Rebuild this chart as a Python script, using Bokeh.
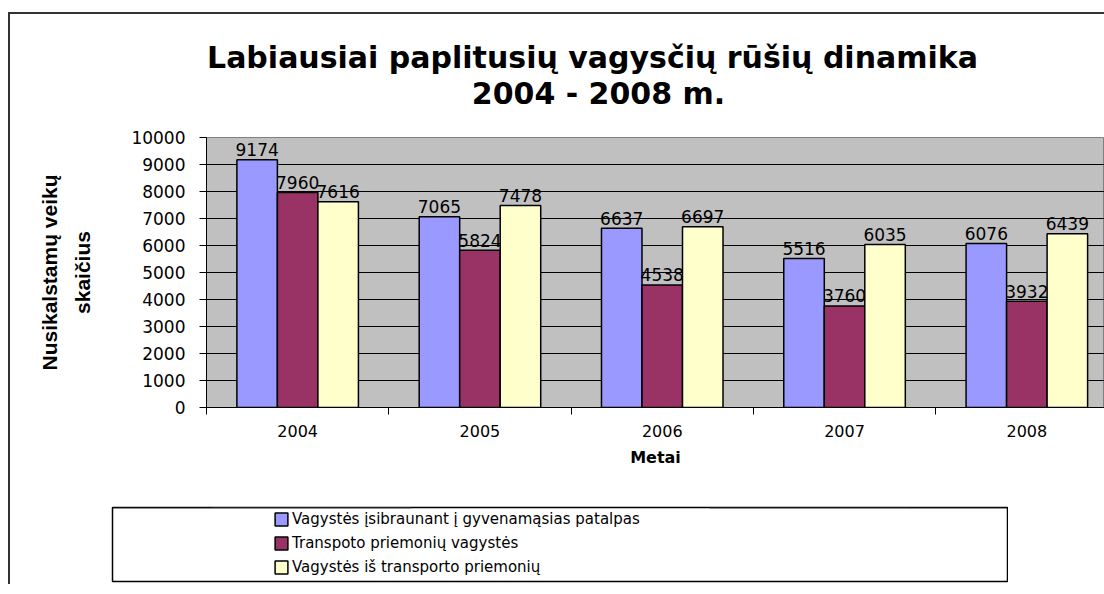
from bokeh.plotting import figure
from bokeh.layouts import column
from bokeh.models import Range1d, FixedTicker, Legend, LegendItem, ColumnDataSource, Label
from bokeh.core.properties import value
from bokeh.embed import file_html
from bokeh.resources import INLINE

# ---- data ----
years = ["2004", "2005", "2006", "2007", "2008"]
series_names = [
    "Vagystės įsibraunant į gyvenamąsias patalpas",
    "Transpoto priemonių vagystės",
    "Vagystės iš transporto priemonių",
]
gyvenamosios_patalpos = [9174, 7065, 6637, 5516, 6076]
transporto_priemoniu_vagystes = [7960, 5824, 4538, 3760, 3932]
is_transporto_priemoniu = [7616, 7478, 6697, 6035, 6439]
series_values = [gyvenamosios_patalpos, transporto_priemoniu_vagystes, is_transporto_priemoniu]
colors = ["#9999FF", "#993366", "#FFFFCC"]
y_ticks = [0, 1000, 2000, 3000, 4000, 5000, 6000, 7000, 8000, 9000, 10000]
title_line1 = "Labiausiai paplitusių vagysčių rūšių dinamika"
title_line2 = "2004 - 2008 m."
y_label = "Nusikalstamų veikų\nskaičius"
x_label = "Metai"

W = 1094
H_TITLE = 111
H_MAIN = 381
H_LEG = 78
idx = list(range(len(years)))
bar_w = 2 / 9
offsets = [-bar_w, 0.0, bar_w]

# ---- title strip ----
pt = figure(width=W, height=H_TITLE, x_range=Range1d(0, 898), y_range=Range1d(0, H_TITLE),
            output_backend="svg", toolbar_location=None,
            min_border_left=196, min_border_right=0, min_border_top=0, min_border_bottom=0)
pt.axis.visible = False
pt.grid.visible = False
pt.outline_line_color = None
pt.background_fill_color = "white"
pt.border_fill_alpha = 0
for txt, tx, ty in [(title_line1, 386, 68), (title_line2, 392, 32)]:
    pt.add_layout(Label(x=tx, y=ty, text=txt, text_align="center",
                        text_baseline="alphabetic", text_font="DejaVu Sans",
                        text_font_style="bold", text_font_size="30px",
                        text_color="black"))

# ---- main chart ----
p = figure(width=W, height=H_MAIN, x_range=Range1d(-0.5, 4.426), y_range=Range1d(0, 10000),
           output_backend="svg", toolbar_location=None,
           min_border_left=196, min_border_right=0, min_border_top=12,
           min_border_bottom=99)
p.background_fill_color = "#C0C0C0"
p.border_fill_alpha = 0
p.outline_line_color = "#808080"

# grid
p.xgrid.visible = False
p.ygrid.ticker = FixedTicker(ticks=y_ticks)
p.ygrid.grid_line_color = "black"
p.ygrid.grid_line_width = 1

# y axis
p.yaxis.ticker = FixedTicker(ticks=y_ticks)
p.yaxis.axis_line_color = "black"
p.yaxis.major_tick_line_color = "black"
p.yaxis.major_tick_out = 7
p.yaxis.major_tick_in = 0
p.yaxis.minor_tick_line_color = None
p.yaxis.major_label_standoff = 14
p.yaxis.major_label_text_font = "DejaVu Sans"
p.yaxis.major_label_text_font_size = "17px"
p.yaxis.major_label_text_color = "black"
p.yaxis.axis_label = y_label
p.yaxis.axis_label_text_font = "Liberation Sans"
p.yaxis.axis_label_text_font_style = "bold"
p.yaxis.axis_label_text_font_size = "21px"
p.yaxis.axis_label_text_color = "black"
p.yaxis.axis_label_text_line_height = 1.45
p.yaxis.axis_label_standoff = 34

# x axis
p.xaxis.ticker = FixedTicker(ticks=idx, minor_ticks=[i - 0.5 for i in range(len(years) + 1)])
p.xaxis.major_label_overrides = {i: y for i, y in zip(idx, years)}
p.xaxis.axis_line_color = "black"
p.xaxis.major_tick_out = 0
p.xaxis.major_tick_in = 0
p.xaxis.minor_tick_line_color = "black"
p.xaxis.minor_tick_out = 7
p.xaxis.minor_tick_in = 0
p.xaxis.major_label_standoff = 10
p.xaxis.major_label_text_font = "DejaVu Sans"
p.xaxis.major_label_text_font_size = "16px"
p.xaxis.major_label_text_color = "black"
p.xaxis.axis_label = x_label
p.xaxis.axis_label_text_font = "DejaVu Sans"
p.xaxis.axis_label_text_font_style = "bold"
p.xaxis.axis_label_text_font_size = "16px"
p.xaxis.axis_label_text_color = "black"
p.xaxis.axis_label_standoff = 8

# ---- legend strip: its frame outline is the legend box ----
pl = figure(width=1092, height=H_LEG, x_range=Range1d(0, 1), y_range=Range1d(-20000, -10000),
            output_backend="svg", toolbar_location=None,
            min_border_left=196, min_border_right=0, min_border_top=1,
            min_border_bottom=3, styles={"margin-left": "-94px"})
pl.axis.visible = False
pl.grid.visible = False
pl.outline_line_color = "black"
pl.outline_line_width = 1.5
pl.background_fill_color = "white"
pl.border_fill_alpha = 0

# bars + value labels
items = []
for k, (name, vals, col) in enumerate(zip(series_names, series_values, colors)):
    src = ColumnDataSource(dict(x=[i + offsets[k] for i in idx], top=vals,
                                label=[str(v) for v in vals]))
    p.vbar(x="x", top="top", width=bar_w, source=src, fill_color=col,
           line_color="black", line_width=1.5)
    p.text(x="x", y="top", text="label", source=src, text_align="center",
           text_baseline="alphabetic", y_offset=-10, text_color="black",
           text_font=value("DejaVu Sans"), text_font_size="17px")
    # legend proxy (same data, outside the legend strip's visible range)
    r = pl.vbar(x="x", top="top", width=bar_w, source=src, fill_color=col,
                line_color="black", line_width=1.5)
    items.append(LegendItem(label=name, renderers=[r]))

legend = Legend(items=items, location=(161, 4), orientation="vertical",
                padding=0, margin=0, spacing=4, glyph_width=16, glyph_height=16,
                label_height=20, label_standoff=3, border_line_color=None,
                background_fill_alpha=0, label_text_font="DejaVu Sans",
                label_text_font_size="15px", label_text_color="black")
pl.add_layout(legend)

layout = column(pt, p, pl, spacing=0,
                styles={"margin-left": "8px", "margin-top": "12px",
                        "border-left": "2px solid #333333",
                        "border-top": "2px solid #333333",
                        "overflow": "visible"})

open("out.html", "w").write(file_html(layout, INLINE))
